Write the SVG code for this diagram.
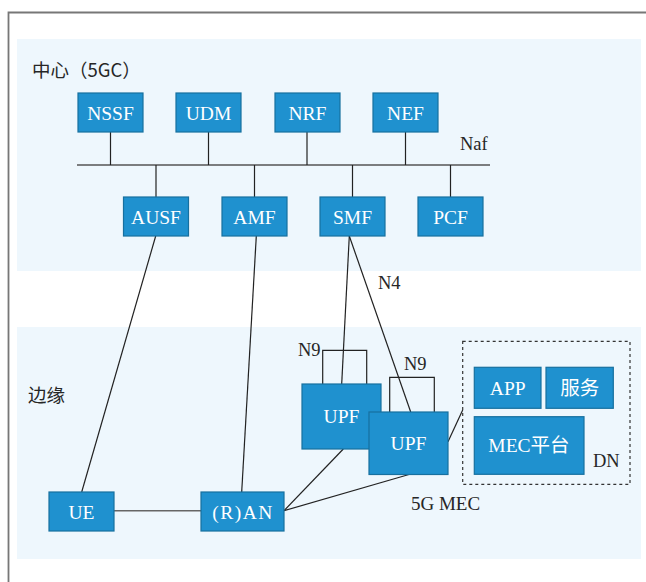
<svg xmlns="http://www.w3.org/2000/svg" width="646" height="582" viewBox="0 0 646 582">
<style>
.panel{fill:#eef7fd}
.box rect{fill:#1f91cf;stroke:#17709f;stroke-width:1.2}
.box text{fill:#ffffff;font-family:"Liberation Serif","Noto Sans CJK SC",serif;font-size:19.5px;text-anchor:middle}
.lbl{fill:#262626;font-family:"Liberation Serif","Noto Sans CJK SC",serif;font-size:18.5px}
.cjk{fill:#262626;font-family:"Noto Sans CJK SC",sans-serif;font-size:18.5px}
.ln{stroke:#222;stroke-width:1.2;fill:none}
.bus{stroke:#555;stroke-width:1.6;fill:none}
</style>
<rect width="646" height="582" fill="#ffffff"/>
<path d="M8.5 582 V12.5 H646" fill="none" stroke="#777" stroke-width="1.8"/>
<rect class="panel" x="17" y="39" width="624" height="232"/>
<rect class="panel" x="17" y="327" width="624" height="232"/>
<text class="cjk" x="32" y="77">中心（5GC）</text>
<text class="cjk" x="28" y="402">边缘</text>
<text class="lbl" x="460" y="150">Naf</text>
<text class="lbl" x="378" y="289">N4</text>
<text class="lbl" x="298" y="356">N9</text>
<text class="lbl" x="404" y="370">N9</text>
<text class="lbl" x="593" y="467">DN</text>
<text class="lbl" x="411" y="510" style="font-size:19px">5G MEC</text>
<g id="connectors">
<line class="bus" x1="77" y1="165" x2="490" y2="165"/>
<line class="ln" x1="110.5" y1="132" x2="110.5" y2="165"/>
<line class="ln" x1="208.5" y1="132" x2="208.5" y2="165"/>
<line class="ln" x1="307" y1="132" x2="307" y2="165"/>
<line class="ln" x1="405.5" y1="132" x2="405.5" y2="165"/>
<line class="ln" x1="156" y1="165" x2="156" y2="197"/>
<line class="ln" x1="254.5" y1="165" x2="254.5" y2="197"/>
<line class="ln" x1="352.5" y1="165" x2="352.5" y2="197"/>
<line class="ln" x1="450.5" y1="165" x2="450.5" y2="197"/>
<line class="ln" x1="155.7" y1="236" x2="81.7" y2="492"/>
<line class="ln" x1="256.3" y1="236" x2="241.7" y2="492"/>
<line class="ln" x1="349.3" y1="236" x2="341.7" y2="384"/>
<line class="ln" x1="349.3" y1="236" x2="410.7" y2="412"/>
<polyline class="ln" points="322.7,384 322.7,350.3 366.7,350.3 366.7,384"/>
<polyline class="ln" points="389.7,412 389.7,377.3 434.3,377.3 434.3,412"/>
<line x1="114" y1="510.7" x2="201" y2="510.7" stroke="#666" stroke-width="1.6"/>
<line class="ln" x1="284" y1="510.7" x2="343.3" y2="449"/>
<line class="ln" x1="284" y1="510.7" x2="409" y2="474.5"/>
<line class="ln" x1="448" y1="441.7" x2="462.7" y2="410"/>
<rect x="462.7" y="341.3" width="167.3" height="143" fill="none" stroke="#333" stroke-width="1.2" stroke-dasharray="3,3"/>
</g>
<g id="NSSF" class="box"><rect x="78" y="93" width="65" height="39"/><text x="110.5" y="119.5">NSSF</text></g>
<g id="UDM" class="box"><rect x="176" y="93" width="65" height="39"/><text x="208.5" y="119.5">UDM</text></g>
<g id="NRF" class="box"><rect x="275" y="93" width="65" height="39"/><text x="307.5" y="119.5">NRF</text></g>
<g id="NEF" class="box"><rect x="373" y="93" width="65" height="39"/><text x="405.5" y="119.5">NEF</text></g>
<g id="AUSF" class="box"><rect x="123.5" y="197" width="65" height="39"/><text x="156" y="223.5">AUSF</text></g>
<g id="AMF" class="box"><rect x="222" y="197" width="65" height="39"/><text x="254.5" y="223.5">AMF</text></g>
<g id="SMF" class="box"><rect x="320" y="197" width="65" height="39"/><text x="352.5" y="223.5">SMF</text></g>
<g id="PCF" class="box"><rect x="418" y="197" width="65" height="39"/><text x="450.5" y="223.5">PCF</text></g>
<g id="UPF1" class="box"><rect x="302" y="384" width="79" height="65"/><text x="341.5" y="423">UPF</text></g>
<g id="UPF2" class="box"><rect x="369" y="412" width="79" height="62.5"/><text x="408.5" y="450">UPF</text></g>
<g id="APP" class="box"><rect x="474.3" y="367.3" width="66.7" height="41"/><text x="507.7" y="395">APP</text></g>
<g id="service" class="box"><rect x="546" y="367.3" width="67.3" height="41"/><text x="579.7" y="395">服务</text></g>
<g id="MEC" class="box"><rect x="474.3" y="416.7" width="109.7" height="57.6"/><text x="529" y="452">MEC平台</text></g>
<g id="UE" class="box"><rect x="49" y="492" width="65" height="39"/><text x="81.5" y="518.5">UE</text></g>
<g id="RAN" class="box"><rect x="201" y="492" width="83" height="39"/><text x="243" y="518.5" letter-spacing="1.5">(R)AN</text></g>
</svg>
